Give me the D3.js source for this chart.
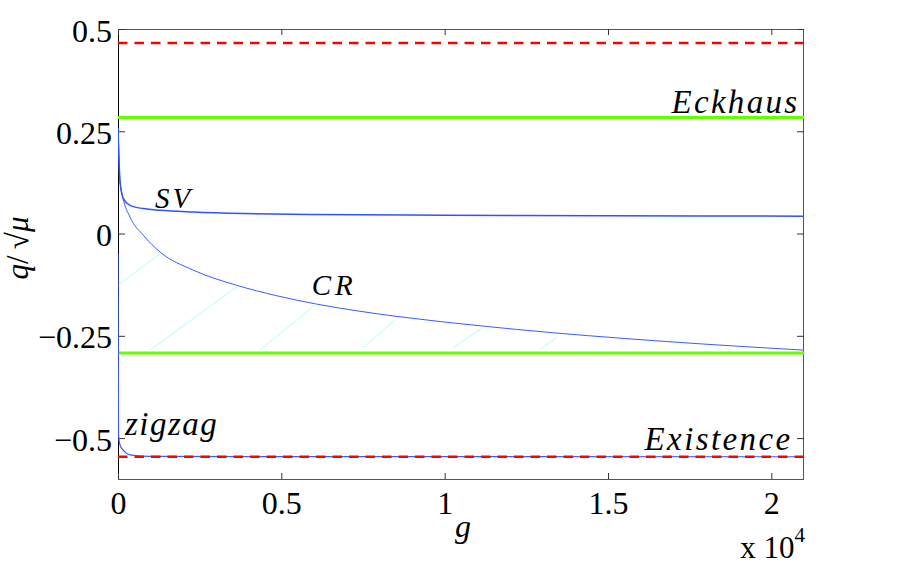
<!DOCTYPE html>
<html>
<head>
<meta charset="utf-8">
<script src="https://cdn.jsdelivr.net/npm/d3@7"></script>
</head>
<body style="margin:0">
<script>
// DATA
// ------------------------------------------------------------------

var xTicks = [0, 5000, 10000, 15000, 20000],
    xTickLabels = ["0", "0.5", "1", "1.5", "2"],
    yTicks = [-0.5, -0.25, 0, 0.25, 0.5],
    yTickLabels = ["\u22120.5", "\u22120.25", "0", "0.25", "0.5"];

// boundaries (constant in g)
var existenceBounds = [0.4655, -0.5458],
    eckhausBounds = [0.2835, -0.2918];

// SV branch: [g, q/sqrt(mu)]
var svCurve = [[0, 0.258], [9, 0.235], [61, 0.128], [162, 0.0855], [367, 0.069],
  [774, 0.061], [1286, 0.057], [2305, 0.0528], [3836, 0.049], [5878, 0.0465],
  [10000, 0.0448], [15000, 0.0436], [21000, 0.0424]];

// CR branch
var crCurve = [[0, 0.258], [9, 0.235], [61, 0.128], [150, 0.088], [367, 0.0405],
  [774, -0.004], [1286, -0.045], [2305, -0.0895], [3634, -0.1265], [4858, -0.152],
  [6083, -0.1725], [7408, -0.19], [8633, -0.2035], [11082, -0.2255], [13316, -0.2425],
  [15500, -0.2565], [18000, -0.2705], [21000, -0.285]];

// zigzag branch
var zigzagCurve = [[0, -0.05], [15, -0.49], [61, -0.517], [153, -0.529], [367, -0.541],
  [980, -0.5448], [5000, -0.5453], [21000, -0.5456]];

// hatch strokes between CR and the lower Eckhaus line: [g0, v0, g1, v1]
var hatchSegments = [[9, -0.126, 1286, -0.049], [980, -0.285, 3634, -0.1305],
  [4347, -0.285, 6031, -0.175], [7509, -0.2785, 8480, -0.2118],
  [10264, -0.2785, 11134, -0.232], [12918, -0.2834, 13408, -0.255]];

// curve labels: [text, g, v, anchor, size, spacing]
var curveLabels = [["SV", 1133, 0.0635, "start", 29, 3],
  ["CR", 5930, -0.151, "start", 29, 4],
  ["zigzag", 214, -0.493, "start", 33, 1.5],
  ["Eckhaus", 20860, 0.294, "end", 33, 2.3],
  ["Existence", 20650, -0.529, "end", 33, 2.4]];

var fontName = "Liberation Serif";

// CANVAS
// ------------------------------------------------------------------

var width = 907,
    height = 588,
    margin = { top: 29, right: 103, bottom: 109, left: 118 };

var svg = d3.select("body")
    .append("svg")
    .attr("width", width)
    .attr("height", height);

var xScale = d3.scaleLinear()
    .domain([0, 21000])
    .range([margin.left, width - margin.right]);
var yScale = d3.scaleLinear()
    .domain([-0.6, 0.5])
    .range([height - margin.bottom, margin.top]);

var x0 = margin.left, x1 = width - margin.right,
    y0 = height - margin.bottom, y1 = margin.top;

// sets the serif face both ways, some renderers only read one of them
function serifText(sel, size, italic) {
  sel.attr("font-family", fontName)
     .style("font-family", "'" + fontName + "'")
     .attr("font-size", size)
     .style("font-size", size + "px");
  if (italic) sel.attr("font-style", "italic").style("font-style", "italic");
  return sel;
}

// AXES
// ------------------------------------------------------------------

svg.append("rect")
    .attr("x", x0 + 0.5).attr("y", y1 + 0.5)
    .attr("width", x1 - x0 - 1).attr("height", y0 - y1)
    .attr("fill", "none").attr("stroke", "#555").attr("stroke-width", 1);

svg.append("line")
    .attr("x1", x0 + 0.5).attr("x2", x0 + 0.5)
    .attr("y1", y1).attr("y2", y0)
    .attr("stroke", "#000");

function styleAxis(g) {
  g.attr("font-family", fontName).attr("font-size", 32);
  g.select(".domain").remove();
  g.selectAll(".tick line").attr("stroke", "#333");
  g.selectAll(".tick text").attr("fill", "#000").call(serifText, 32, false);
}

svg.append("g")
    .attr("transform", "translate(0," + y0 + ")")
    .call(d3.axisBottom(xScale).tickValues(xTicks)
      .tickFormat(function(d, i) { return xTickLabels[i]; })
      .tickSize(-6).tickPadding(12))
    .call(styleAxis);
svg.append("g")
    .attr("transform", "translate(0," + y1 + ")")
    .call(d3.axisTop(xScale).tickValues(xTicks).tickFormat("").tickSize(-6))
    .call(styleAxis);
svg.append("g")
    .attr("transform", "translate(" + x0 + ",0)")
    .call(d3.axisLeft(yScale).tickValues(yTicks)
      .tickFormat(function(d, i) { return yTickLabels[i]; })
      .tickSize(-7).tickPadding(6))
    .call(styleAxis)
    .selectAll(".tick text").attr("dy", "0.38em");
svg.append("g")
    .attr("transform", "translate(" + x1 + ",0)")
    .call(d3.axisRight(yScale).tickValues(yTicks).tickFormat("").tickSize(-7))
    .call(styleAxis);

svg.append("clipPath").attr("id", "plot-clip")
  .append("rect")
    .attr("x", x0).attr("y", y1)
    .attr("width", x1 - x0)
    .attr("height", y0 - y1);

var plot = svg.append("g").attr("clip-path", "url(#plot-clip)");

// HATCH
// ------------------------------------------------------------------

plot.selectAll(".hatch")
  .data(hatchSegments)
  .enter().append("line")
    .attr("class", "hatch")
    .attr("x1", function(d) { return xScale(d[0]); })
    .attr("y1", function(d) { return yScale(d[1]); })
    .attr("x2", function(d) { return xScale(d[2]); })
    .attr("y2", function(d) { return yScale(d[3]); })
    .attr("stroke", "#b4fafa")
    .attr("stroke-width", 1);

// BOUNDARIES
// ------------------------------------------------------------------

plot.selectAll(".eckhaus")
  .data(eckhausBounds)
  .enter().append("line")
    .attr("x1", xScale(0)).attr("x2", xScale(21000))
    .attr("y1", function(d) { return yScale(d); })
    .attr("y2", function(d) { return yScale(d); })
    .attr("stroke", "#66ff00")
    .attr("stroke-width", 3);

// PATHS
// ------------------------------------------------------------------

var line = d3.line()
    .x(function(d) { return xScale(d[0]); })
    .y(function(d) { return yScale(d[1]); })
    .curve(d3.curveMonotoneX);

plot.append("path").attr("d", line(crCurve))
    .attr("fill", "none").attr("stroke", "#3a5cff").attr("stroke-width", 1);
plot.append("path").attr("d", line(svCurve))
    .attr("fill", "none").attr("stroke", "#2f52ff").attr("stroke-width", 1.5);
plot.append("path").attr("d", line(zigzagCurve))
    .attr("fill", "none").attr("stroke", "#3a5cff").attr("stroke-width", 1.2);

plot.selectAll(".existence")
  .data(existenceBounds)
  .enter().append("line")
    .attr("x1", xScale(0)).attr("x2", xScale(21000))
    .attr("y1", function(d) { return yScale(d); })
    .attr("y2", function(d) { return yScale(d); })
    .attr("stroke", "#ff0000")
    .attr("stroke-width", 2.5)
    .attr("stroke-dasharray", "9.5,7");

// LABELS
// ------------------------------------------------------------------

svg.selectAll(".curve-label")
  .data(curveLabels)
  .enter().append("text")
    .attr("x", function(d) { return xScale(d[1]); })
    .attr("y", function(d) { return yScale(d[2]); })
    .attr("text-anchor", function(d) { return d[3]; })
    .attr("font-family", fontName)
    .style("font-family", "'" + fontName + "'")
    .style("font-style", "italic")
    .style("font-size", function(d) { return d[4] + "px"; })
    .style("letter-spacing", function(d) { return d[5] + "px"; })
    .text(function(d) { return d[0]; });

svg.append("text")
    .attr("x", (x0 + x1) / 2 + 2)
    .attr("y", 537)
    .attr("text-anchor", "middle")
    .call(serifText, 32, true)
    .text("g");

var ylab = svg.append("text")
    .attr("transform", "translate(28," + 248 + ") rotate(-90)")
    .attr("text-anchor", "middle")
    .call(serifText, 31, false);
ylab.append("tspan").style("font-style", "italic").text("q");
ylab.append("tspan").text("/\u2009\u221A");
ylab.append("tspan").style("font-style", "italic").text("\u03BC");

var exp = svg.append("text")
    .attr("x", x1 + 1)
    .attr("y", 558)
    .attr("text-anchor", "end")
    .call(serifText, 31, false);
exp.append("tspan").text("x 10");
exp.append("tspan").attr("dy", -16).style("font-size", "21px").text("4");
</script>
</body>
</html>
